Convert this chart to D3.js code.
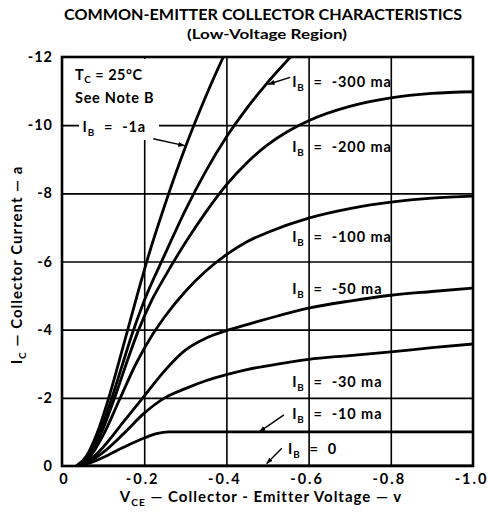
<!DOCTYPE html>
<html><head><meta charset="utf-8">
<script src="https://cdn.jsdelivr.net/npm/d3@7"></script>
<style>
body{margin:0;background:#fff;}
svg{display:block;font-family:Lato,"DejaVu Sans",sans-serif;font-weight:700;}
</style></head><body>
<svg id="chart" width="488" height="513"></svg>
<script>
// ---- data (V_CE in volts, I_C in amperes, both negative as in the chart) ----
const xTickValues = [0, -0.2, -0.4, -0.6, -0.8, -1.0];
const xTickLabels = ["0", "-0.2", "-0.4", "-0.6", "-0.8", "-1.0"];
const yTickValues = [0, -2, -4, -6, -8, -10, -12];
const yTickLabels = ["0", "-2", "-4", "-6", "-8", "-10", "-12"];
const seriesLabels = ["0", "-10 ma", "-30 ma", "-50 ma", "-100 ma", "-200 ma", "-300 ma", "-1a"];

const curveIB0   = [[-0.035,0],[-1.0,0]];
const curveIB10  = [[-0.035,0],[-0.07,-0.1],[-0.1,-0.25],[-0.15,-0.55],[-0.2,-0.82],[-0.23,-0.95],[-0.26,-1.0],[-0.4,-1.0],[-0.6,-1.0],[-0.8,-1.0],[-1.0,-1.0]];
const curveIB30  = [[-0.035,0],[-0.07,-0.15],[-0.1,-0.4],[-0.15,-0.95],[-0.2,-1.55],[-0.25,-2.0],[-0.3,-2.27],[-0.35,-2.5],[-0.4,-2.68],[-0.45,-2.83],[-0.5,-2.94],[-0.6,-3.13],[-0.7,-3.24],[-0.8,-3.35],[-0.9,-3.47],[-1.0,-3.58]];
const curveIB50  = [[-0.035,0],[-0.07,-0.2],[-0.1,-0.55],[-0.15,-1.3],[-0.2,-2.05],[-0.25,-2.8],[-0.3,-3.4],[-0.35,-3.75],[-0.4,-3.97],[-0.45,-4.15],[-0.5,-4.32],[-0.6,-4.63],[-0.7,-4.84],[-0.8,-5.01],[-0.9,-5.12],[-1.0,-5.22]];
const curveIB100 = [[-0.035,0],[-0.07,-0.3],[-0.1,-0.9],[-0.14,-1.95],[-0.18,-3.0],[-0.22,-3.85],[-0.25,-4.38],[-0.3,-5.12],[-0.35,-5.72],[-0.4,-6.2],[-0.45,-6.58],[-0.5,-6.85],[-0.6,-7.27],[-0.7,-7.55],[-0.8,-7.74],[-0.9,-7.86],[-1.0,-7.92]];
const curveIB200 = [[-0.035,0],[-0.065,-0.28],[-0.095,-0.95],[-0.125,-1.9],[-0.155,-2.95],[-0.185,-3.95],[-0.22,-4.9],[-0.25,-5.55],[-0.3,-6.55],[-0.35,-7.45],[-0.4,-8.25],[-0.45,-8.9],[-0.5,-9.42],[-0.55,-9.82],[-0.6,-10.13],[-0.7,-10.55],[-0.8,-10.8],[-0.9,-10.93],[-1.0,-10.98]];
const curveIB300 = [[-0.035,0],[-0.06,-0.25],[-0.09,-0.95],[-0.12,-1.95],[-0.145,-2.9],[-0.17,-3.85],[-0.2,-4.85],[-0.25,-6.2],[-0.3,-7.5],[-0.35,-8.65],[-0.4,-9.65],[-0.45,-10.5],[-0.5,-11.25],[-0.56,-12.05]];
const curveIB1a  = [[-0.035,0],[-0.06,-0.3],[-0.085,-0.95],[-0.11,-1.85],[-0.135,-2.9],[-0.16,-4.0],[-0.185,-5.1],[-0.21,-6.15],[-0.25,-7.65],[-0.3,-9.35],[-0.35,-10.85],[-0.4,-12.2]];
const curves = [curveIB0, curveIB10, curveIB30, curveIB50, curveIB100, curveIB200, curveIB300, curveIB1a];

// ---- layout ----
const L = 62, R = 473, T = 57, B = 466;
const svg = d3.select("#chart");
const x = d3.scaleLinear().domain([0, -1.0]).range([L, R]);
const y = d3.scaleLinear().domain([0, -12]).range([B, T]);

svg.append("defs").append("clipPath").attr("id","plotclip")
  .append("rect").attr("x",L).attr("y",T).attr("width",R-L).attr("height",B-T);
const mk = svg.select("defs").append("marker").attr("id","arr")
  .attr("viewBox","0 0 10 10").attr("refX",9).attr("refY",5)
  .attr("markerWidth",7).attr("markerHeight",7).attr("orient","auto")
  .attr("markerUnits","userSpaceOnUse");
mk.append("path").attr("d","M0,1.5 L10,5 L0,8.5 Z").attr("fill","#000");

// grid
svg.append("g").attr("transform",`translate(0,${B})`)
  .call(d3.axisBottom(x).tickValues(xTickValues.slice(1,-1)).tickSize(-(B-T)).tickFormat(""))
  .call(g => g.select(".domain").remove())
  .call(g => g.selectAll("line").attr("stroke","#000").attr("stroke-width",1.6));
svg.append("g").attr("transform",`translate(${L},0)`)
  .call(d3.axisLeft(y).tickValues(yTickValues.slice(1,-1)).tickSize(-(R-L)).tickFormat(""))
  .call(g => g.select(".domain").remove())
  .call(g => g.selectAll("line").attr("stroke","#000").attr("stroke-width",1.6));

// white area behind the annotation block
svg.append("rect").attr("x",79).attr("y",59).attr("width",80).attr("height",81).attr("fill","#fff");

// curves
const line = d3.line().x(d => x(d[0])).y(d => y(d[1])).curve(d3.curveMonotoneX);
svg.append("g").attr("clip-path","url(#plotclip)")
  .selectAll("path").data(curves).join("path")
  .attr("d", line).attr("fill","none").attr("stroke","#000")
  .attr("stroke-width",(d,i)=> i===0 ? 3.2 : 2.8).attr("stroke-linejoin","round");

// frame
svg.append("rect").attr("x",L).attr("y",T).attr("width",R-L).attr("height",B-T)
  .attr("fill","none").attr("stroke","#000").attr("stroke-width",2.6);

// tick labels
const xAxis = svg.append("g").attr("transform",`translate(0,${B})`)
  .call(d3.axisBottom(x).tickValues(xTickValues).tickSize(0).tickPadding(0)
    .tickFormat((d,i)=>xTickLabels[i]));
xAxis.select(".domain").remove();
xAxis.selectAll("text").attr("y",18).attr("dy",0).attr("font-size",14.5)
  .attr("font-family","Lato").attr("font-weight",700).attr("fill","#000")
  .attr("letter-spacing",2).attr("dx",(d,i)=> i===0 ? 2 : -2);
const yAxis = svg.append("g").attr("transform",`translate(${L},0)`)
  .call(d3.axisLeft(y).tickValues(yTickValues).tickSize(0).tickPadding(9)
    .tickFormat((d,i)=>yTickLabels[i]));
yAxis.select(".domain").remove();
yAxis.selectAll("text").attr("font-size",14.5).attr("font-family","Lato")
  .attr("font-weight",700).attr("fill","#000").attr("letter-spacing",1);

// titles
svg.append("text").attr("x",263).attr("y",20).attr("text-anchor","middle")
  .attr("font-size",14.5).attr("textLength",398).attr("lengthAdjust","spacingAndGlyphs")
  .text("COMMON-EMITTER COLLECTOR CHARACTERISTICS");
svg.append("text").attr("x",267).attr("y",39).attr("text-anchor","middle")
  .attr("font-size",13.5).attr("textLength",160).attr("lengthAdjust","spacingAndGlyphs")
  .text("(Low-Voltage Region)");

// helper for subscripted text
function subText(px, py, main, sub, rest, fs, ls, opts={}) {
  const sh = opts.shift ?? 0.28;
  const t = svg.append("text").attr("x",px).attr("y",py).attr("font-size",fs)
    .attr("letter-spacing",ls).attr("fill","#000").style("white-space","pre");
  if (opts.rotate) t.attr("transform",`rotate(-90,${px},${py})`).attr("text-anchor","middle");
  t.append("tspan").text(main);
  t.append("tspan").attr("font-size",fs*0.68).attr("dy",fs*sh).text(sub);
  t.append("tspan").attr("dy",-fs*sh).text(rest);
  return t;
}

// axis titles
subText(261, 502, "V", "CE", " — Collector - Emitter Voltage — v", 15, 1).attr("text-anchor","middle");
subText(22, 265, "I", "C", " — Collector Current — a", 15, 1, {rotate:true});

// annotation
subText(75, 80, "T", "C", " = 25°C", 14.5, 0.5, {shift:0.2});
svg.append("text").attr("x",75).attr("y",103).attr("font-size",14.5).attr("letter-spacing",0.7)
  .attr("fill","#000").text("See Note B");

// curve labels (positions in data units)
function ibLabel(vx, vy, val) {
  return subText(x(vx), y(vy), "I", "B", "  =  " + val, 14.5, 0.9);
}
const lblPos = [[-0.55,-0.35],[-0.56,-1.38],[-0.56,-2.32],[-0.56,-5.04],[-0.56,-6.57],[-0.56,-9.2],[-0.56,-11.13],[-0.05,-9.8]];
seriesLabels.forEach((s,i)=> ibLabel(lblPos[i][0], lblPos[i][1], s));

// arrows (from label to curve)
const arrows = [
  [[-0.535,-0.52],[-0.498,-0.07]],
  [[-0.54,-1.5],[-0.48,-1.0]],
  [[-0.555,-11.4],[-0.502,-11.2]],
  [[-0.222,-9.6],[-0.298,-9.4]]
];
arrows.forEach(a => {
  svg.append("line").attr("x1",x(a[0][0])).attr("y1",y(a[0][1]))
    .attr("x2",x(a[1][0])).attr("y2",y(a[1][1]))
    .attr("stroke","#000").attr("stroke-width",1.4).attr("marker-end","url(#arr)");
});
</script></body></html>
